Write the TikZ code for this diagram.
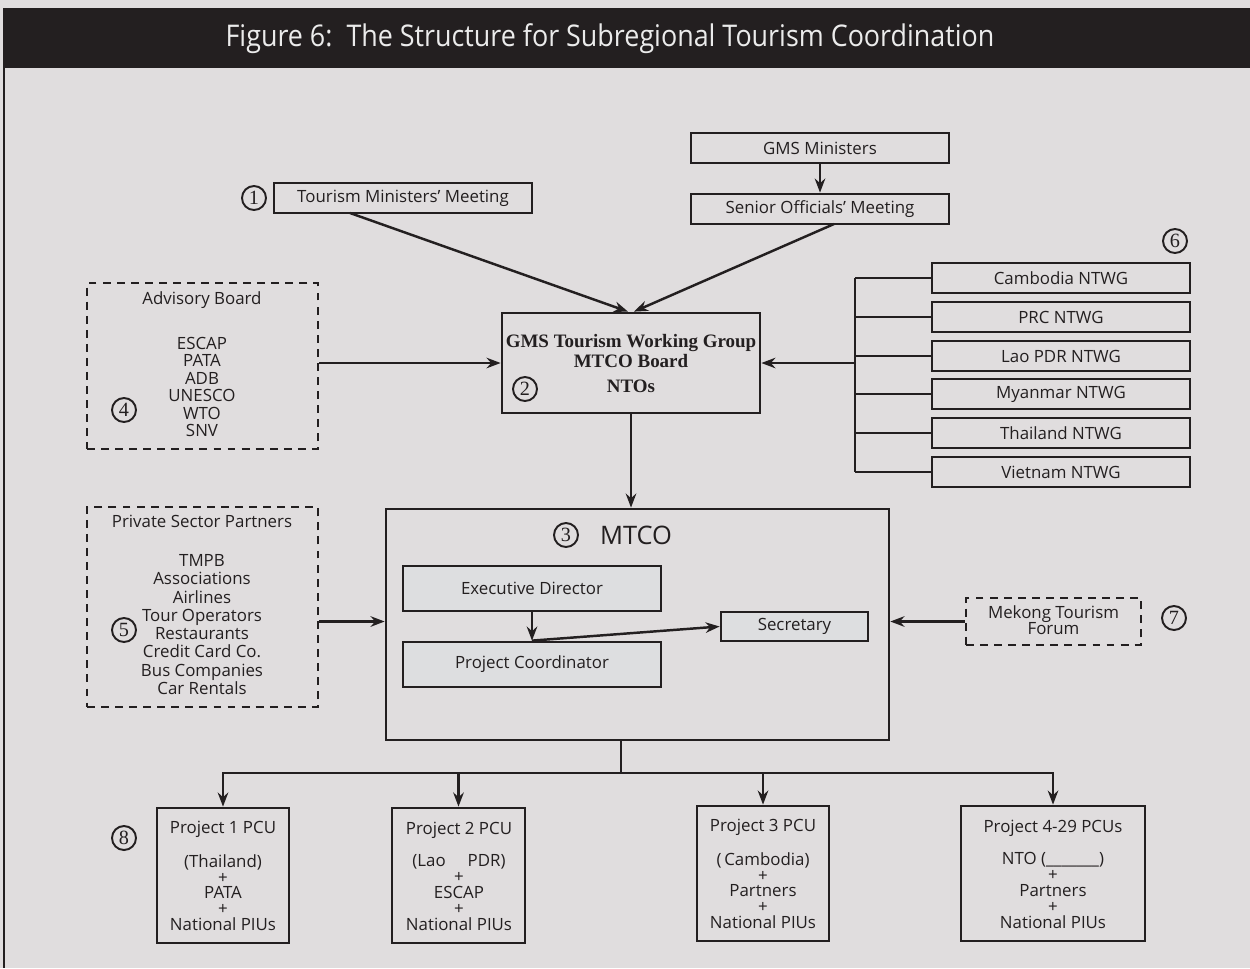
\documentclass[tikz,border=0pt]{standalone}
\usepackage{fontspec}
\usepackage{graphicx}
\setmainfont{Open Sans}
\newfontfamily\numfont{Liberation Serif}
\usetikzlibrary{positioning,arrows.meta}
\definecolor{bgcol}{RGB}{224,221,222}
\definecolor{ink}{RGB}{35,31,32}
\definecolor{innerfill}{RGB}{221,222,224}
\tikzset{
  box/.style={draw=ink, line width=1.6pt, text=ink, inner sep=0pt, align=center,
    font=\fontsize{9.6}{10}\selectfont},
  dashbox/.style={draw=ink, line width=1.2pt, dash pattern=on 4.5pt off 3.5pt, inner sep=0pt},
  lbl/.style={text=ink, align=center, inner sep=0pt, font=\fontsize{9.6}{10}\selectfont},
  num/.style={circle, draw=ink, line width=1.1pt, minimum size=0.48cm, inner sep=0pt,
    text=ink, font=\numfont\fontsize{11.5}{11.5}\selectfont},
  link/.style={draw=ink, line width=1.4pt},
  arr/.style={link, -{Stealth[length=8pt,width=6pt]}}
}
\begin{document}
\begin{tikzpicture}[x=0.02cm, y=-0.02cm]
  \useasboundingbox (0,0) rectangle (1250,968);
  \fill[bgcol] (0,0) rectangle (1250,968);
  \fill[ink] (3,8) rectangle (1250,68);
  \draw[ink, line width=1.2pt] (4,68) -- (4,968);
  \node[text=white!92!black, inner sep=0pt] (title) at (610,39)
    {\scalebox{0.9}[1]{\fontsize{17}{17}\selectfont Figure 6:\ \ The Structure for Subregional Tourism Coordination}};

  \node[box, minimum width=5.16cm, minimum height=0.6cm] (tmm) at (403,198) {Tourism Ministers' Meeting};
  \node[num] (n1) at (254,198) {1};
  \node[box, minimum width=5.16cm, minimum height=0.6cm] (gmsm) at (820,148) {GMS Ministers};
  \node[box, minimum width=5.16cm, minimum height=0.6cm] (som) at (820,209) {Senior Officials' Meeting};

  \node[box, minimum width=5.16cm, minimum height=2cm] (gms) at (631,363) {};
  \node[lbl, font=\numfont\bfseries\fontsize{10.8}{9}\selectfont] (gmst) at (631,351) {GMS Tourism Working Group\\MTCO Board};
  \node[lbl, font=\numfont\bfseries\fontsize{10.8}{10}\selectfont] (ntos) at (631,386) {NTOs};
  \node[num] (n2) at (525,389) {2};

  \node[dashbox, minimum width=4.62cm, minimum height=3.32cm] (adv) at (202.5,366) {};
  \node[lbl] (advt) at (202,300) {Advisory Board};
  \node[lbl, font=\fontsize{9.6}{9.9}\selectfont] (advl) at (202,387) {ESCAP\\PATA\\ADB\\UNESCO\\WTO\\SNV};
  \node[num] (n4) at (124,410) {4};

  \node[num] (n6) at (1175,241) {6};
  \foreach \nm/\yy [count=\i] in {Cambodia/278, PRC/317, Lao PDR/356, Myanmar/394, Thailand/433, Vietnam/472}
    \node[box, minimum width=5.16cm, minimum height=0.6cm] (ntwg\i) at (1061,\yy) {\nm\ NTWG};
  \coordinate (brk) at (855,363);
  \draw[link] (brk |- ntwg1.west) -- (brk |- ntwg6.west);
  \foreach \i in {1,...,6}
    \draw[link] (brk |- ntwg\i.west) -- (ntwg\i.west);
  \draw[arr] (brk) -- (gms.east);

  \node[box, minimum width=10.06cm, minimum height=4.62cm] (mtco) at (637.5,624.5) {};
  \node[num] (n3) at (566,535) {3};
  \node[lbl, font=\fontsize{14.5}{15}\selectfont] (mtcot) at (636,535) {MTCO};
  \node[box, fill=innerfill, minimum width=5.16cm, minimum height=0.9cm] (ed) at (532,588.5) {Executive Director};
  \node[box, fill=innerfill, minimum width=5.16cm, minimum height=0.9cm] (pc) at (532,664.5) {Project Coordinator};
  \node[box, fill=innerfill, minimum width=2.94cm, minimum height=0.58cm] (sec) at (794.5,626.5) {Secretary};
  \draw[arr] (ed.south) -- (pc.north);
  \draw[arr] (pc.north) -- (sec.west);

  \node[dashbox, minimum width=4.62cm, minimum height=4cm] (psp) at (202.5,607) {};
  \node[lbl] (pspt) at (202,521) {Private Sector Partners};
  \node[lbl, font=\fontsize{9.6}{10.4}\selectfont] (pspl) at (202,624.5) {TMPB\\Associations\\Airlines\\Tour Operators\\Restaurants\\Credit Card Co.\\Bus Companies\\Car Rentals};
  \node[num] (n5) at (124,630) {5};

  \node[dashbox, minimum width=3.5cm, minimum height=0.94cm] (mtf) at (1053.5,621.5) {};
  \node[lbl, font=\fontsize{9.6}{9.2}\selectfont] (mtft) at (1053.5,620) {Mekong Tourism\\Forum};
  \node[num] (n7) at (1174,618) {7};

  \coordinate (tmmout) at (350,213);
  \coordinate (somout) at (834,224);
  \draw[arr] (tmmout) -- ([xshift=-3*0.02cm]gms.north);
  \draw[arr] (somout) -- ([xshift=3*0.02cm]gms.north);
  \draw[arr] (gmsm.south) -- (som.north);
  \draw[arr] (adv.east |- gms.west) -- (gms.west);
  \draw[arr] (gms.south) -- (gms.south |- mtco.north);
  \draw[arr] (psp.east |- mtf.west) -- (mtco.west |- mtf.west);
  \draw[arr] (mtf.west) -- (mtco.east |- mtf.west);

  \node[box, minimum width=2.64cm, minimum height=2.7cm] (p1) at (223,875.5) {};
  \node[lbl, font=\fontsize{9.6}{9}\selectfont] (p1t) at (223,876) {Project 1 PCU\\[8.5pt](Thailand)\\+\\PATA\\+\\National PIUs};
  \node[box, minimum width=2.66cm, minimum height=2.7cm] (p2) at (458.5,875.5) {};
  \node[lbl, font=\fontsize{9.6}{9}\selectfont] (p2t) at (459,876) {Project 2 PCU\\[8.5pt](Lao\hspace{1.3em}PDR)\\+\\ESCAP\\+\\National PIUs};
  \node[box, minimum width=2.64cm, minimum height=2.7cm] (p3) at (763,873.5) {};
  \node[lbl, font=\fontsize{9.6}{9}\selectfont] (p3t) at (763,874) {Project 3 PCU\\[8.5pt](\,Cambodia)\\+\\Partners\\+\\National PIUs};
  \node[box, minimum width=3.68cm, minimum height=2.7cm] (p4) at (1053,873.5) {};
  \node[lbl, font=\fontsize{9.6}{9}\selectfont] (p4t) at (1053,874) {Project 4-29 PCUs\\[8.5pt]NTO (\_\_\_\_\_\_\_)\\+\\Partners\\+\\National PIUs};
  \node[num] (n8) at (124,838) {8};

  \coordinate (split) at (621,773);
  \draw[link] (split |- mtco.south) -- (split);
  \foreach \p in {p1,p2,p3,p4}
    \draw[arr] (split) -| (\p.north);
\end{tikzpicture}
\end{document}
